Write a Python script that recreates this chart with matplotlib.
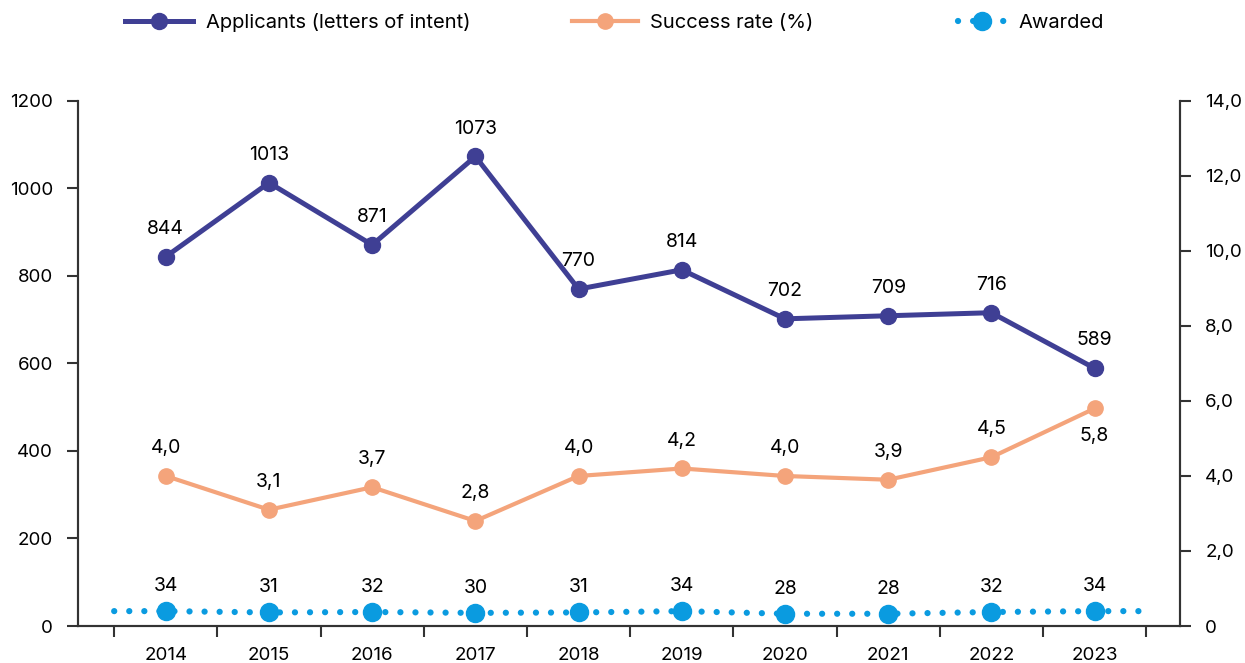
import numpy as np
import matplotlib.pyplot as plt
from matplotlib.ticker import FuncFormatter, FixedLocator

plt.rcParams["font.family"] = ["Inter", "DejaVu Sans"]

years = ["2014", "2015", "2016", "2017", "2018", "2019", "2020", "2021", "2022", "2023"]
applicants = [844, 1013, 871, 1073, 770, 814, 702, 709, 716, 589]
success_rate = [4.0, 3.1, 3.7, 2.8, 4.0, 4.2, 4.0, 3.9, 4.5, 5.8]
awarded = [34, 31, 32, 30, 31, 34, 28, 28, 32, 34]

c_app = "#3f3f94"
c_succ = "#f4a47b"
c_awd = "#0a9be0"
fs = 13.5
fs_lab = 14
fs_leg = 14.5

x = np.arange(len(years))

fig = plt.figure(figsize=(12.45, 6.63), dpi=100)
ax = fig.add_axes([0.0627, 0.0558, 0.8853, 0.792])
ax2 = ax.twinx()

# applicants
ax.plot(x, applicants, color=c_app, lw=3.6, marker="o", ms=11.5, zorder=4)
for xi, v in zip(x, applicants):
    ax.annotate(str(v), (xi, v), xytext=(0, 20), textcoords="offset points",
                ha="center", va="center", fontsize=fs_lab)

# awarded (dotted line runs edge to edge of the category bands)
x_ext = np.concatenate([[x[0] - 0.5], x, [x[-1] + 0.5]])
y_ext = np.concatenate([[awarded[0]], awarded, [awarded[-1]]])
ax.plot(x_ext, y_ext, color=c_awd, lw=4.5, linestyle=(0, (0.01, 2.4)),
        dash_capstyle="round", zorder=3)
ax.plot(x, awarded, color=c_awd, lw=0, marker="o", ms=13, zorder=4)
for xi, v in zip(x, awarded):
    ax.annotate(str(v), (xi, v), xytext=(0, 18), textcoords="offset points",
                ha="center", va="center", fontsize=fs_lab)

# success rate
ax2.plot(x, success_rate, color=c_succ, lw=3.0, marker="o", ms=11, zorder=4)
for i, (xi, v) in enumerate(zip(x, success_rate)):
    off = -20 if i == len(x) - 1 else 20
    ax2.annotate(f"{v:.1f}".replace(".", ","), (xi, v), xytext=(0, off),
                 textcoords="offset points", ha="center", va="center", fontsize=fs_lab)

ax.set_xlim(-0.85, 9.83)
ax.set_ylim(0, 1200)
ax2.set_ylim(0, 14)
ax.set_yticks(np.arange(0, 1201, 200))
ax2.set_yticks(np.arange(0, 14.1, 2))
ax2.yaxis.set_major_formatter(FuncFormatter(
    lambda v, p: "0" if v == 0 else f"{v:.1f}".replace(".", ",")))

ax.set_xticks(x)
ax.set_xticklabels(years)
ax.xaxis.set_minor_locator(FixedLocator(np.arange(-0.5, 9.6, 1)))
ax.tick_params(axis="x", which="major", length=0, pad=15, labelsize=fs)
ax.tick_params(axis="x", which="minor", length=8, width=1.5, color="#333333")
ax.tick_params(axis="y", length=8, width=1.5, pad=10, labelsize=fs, color="#333333")
ax2.tick_params(axis="y", length=8, width=1.5, pad=10, labelsize=fs, color="#333333")

for a in (ax, ax2):
    a.spines["top"].set_visible(False)
    for s in ("left", "right", "bottom"):
        a.spines[s].set_linewidth(1.5)
        a.spines[s].set_color("#333333")

# legend, three entries placed along the top
entries = [
    (0.1004, 3.4, dict(color=c_app, lw=3.6, marker="o", ms=11.5), "Applicants (letters of intent)"),
    (0.4594, 3.3, dict(color=c_succ, lw=3.0, marker="o", ms=11), "Success rate (%)"),
    (0.7695, 2.4, dict(color=c_awd, lw=4.5, linestyle=(0, (0.01, 2.4)), dash_capstyle="round",
                       marker="o", ms=13), "Awarded"),
]
for xpos, hl, kw, lab in entries:
    h, = ax.plot([], [], **kw)
    fig.legend([h], [lab], loc="center left", bbox_to_anchor=(xpos, 1 - 23 / 663),
               frameon=False, borderpad=0, borderaxespad=0, fontsize=fs_leg,
               handlelength=hl, handletextpad=0.6, numpoints=1)

fig.savefig("out.png", dpi=100)
